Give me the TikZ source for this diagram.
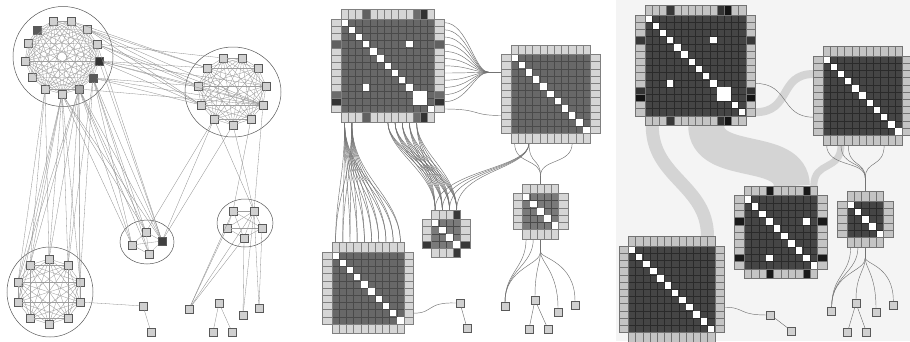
\documentclass[tikz,border=0pt]{standalone}
\usetikzlibrary{calc}
\definecolor{nf}{HTML}{D0D0D0}
\definecolor{labtwo}{HTML}{D6D6D6}
\definecolor{celltwo}{HTML}{686868}
\definecolor{gridtwo}{HTML}{4A4A4A}
\definecolor{labthree}{HTML}{C4C4C4}
\definecolor{cellthree}{HTML}{454545}
\definecolor{gridthree}{HTML}{2A2A2A}
\definecolor{bgthree}{HTML}{F4F4F4}
\definecolor{bandc}{HTML}{D4D4D4}
\newcommand\mtx[6]{%
  \pgfmathtruncatemacro\mN{#3-1}%
  \fill[mcell] (#1,#2) rectangle ({#1+#3*#4},{#2+#3*#4});
  \foreach \k in {0,...,#3}{%
    \draw[mgrid] ({#1+\k*#4},#2) -- ++(0,{#3*#4});
    \draw[mgrid] (#1,{#2+\k*#4}) -- ++({#3*#4},0);
  }
  \foreach \k in {0,...,\mN}{%
    \fill[white] ({#1+\k*#4+0.35},{#2+\k*#4+0.35}) rectangle ++({#4-0.7},{#4-0.7});
    \filldraw[mlab] ({#1+\k*#4},#2) rectangle ++(#4,-9.5);
    \filldraw[mlab] ({#1+\k*#4},{#2+#3*#4}) rectangle ++(#4,9.5);
    \filldraw[mlab] (#1,{#2+\k*#4}) rectangle ++(-9.5,#4);
    \filldraw[mlab] ({#1+#3*#4},{#2+\k*#4}) rectangle ++(9.5,#4);
  }
  \foreach \r/\c/\s in {#5}{%
    \fill[white] ({#1+\c*#4+0.35},{#2+\r*#4+0.35}) rectangle ++({\s*#4-0.7},{\s*#4-0.7});
  }
  \foreach \k/\col in {#6}{%
    \filldraw[mlab,fill=\col] ({#1+\k*#4},#2) rectangle ++(#4,-9.5);
    \filldraw[mlab,fill=\col] ({#1+\k*#4},{#2+#3*#4}) rectangle ++(#4,9.5);
    \filldraw[mlab,fill=\col] (#1,{#2+\k*#4}) rectangle ++(-9.5,#4);
    \filldraw[mlab,fill=\col] ({#1+#3*#4},{#2+\k*#4}) rectangle ++(9.5,#4);
  }
}
\begin{document}
\begin{tikzpicture}[x=1pt,y=-1pt,
  sq/.style={rectangle,draw=black!65,fill=nf,minimum size=7.5pt,inner sep=0pt,line width=0.5pt},
  sqb/.style={sq,minimum size=8pt},
  intra/.style={draw=black!38,line width=0.33pt},
  inter/.style={draw=black!45,line width=0.3pt},
  hull/.style={draw=black!65,line width=0.5pt},
  link/.style={draw=black!55,line width=0.45pt},
  bandst/.style={draw=bandc,line cap=butt},
  p2/.style={mcell/.style={fill=celltwo},mgrid/.style={draw=gridtwo,line width=0.35pt},mlab/.style={fill=labtwo,draw=black!50,line width=0.4pt}},
  p2l/.style={mcell/.style={fill=black!52},mgrid/.style={draw=gridtwo,line width=0.35pt},mlab/.style={fill=labtwo,draw=black!50,line width=0.4pt}},
  p3/.style={mcell/.style={fill=cellthree},mgrid/.style={draw=gridthree,line width=0.35pt},mlab/.style={fill=labthree,draw=black!55,line width=0.4pt}}
]
\useasboundingbox (0,0) rectangle (910,341);
\fill[white] (0,0) rectangle (910,341);
\fill[bgthree] (616,0) rectangle (910,341);

% ================= Panel 1: node-link =================
\draw[hull] (63,56.5) circle [radius=50];
\draw[hull] (233,92) ellipse [x radius=48,y radius=45];
\draw[hull] (147,242) ellipse [x radius=27,y radius=22];
\draw[hull] (245,223) ellipse [x radius=28,y radius=24];
\draw[hull] (50,292) ellipse [x radius=43,y radius=45];

\foreach \n/\x/\y/\f in {1/53/21/nf,2/71/21/nf,3/87/29/nf,4/97/44/nf,5/99/61/black!80,6/93/78/black!65,7/79/89/black!35,8/62/94/nf,9/45/89/nf,10/32/77/nf,11/25/61/nf,12/28/43/nf,13/37/30/black!65}
  \node[sq,fill=\f] (a\n) at (\x,\y) {};
\foreach \n/\x/\y in {1/223/58,2/242/58,3/258/68,4/266/86,5/263/105,6/251/119,7/233/125,8/214/119,9/201/105,10/198/86,11/207/68}
  \node[sq] (b\n) at (\x,\y) {};
\foreach \n/\x/\y/\f in {1/146/232/nf,2/162/241/black!75,3/132/245/nf,4/149/254/nf}
  \node[sq,fill=\f] (c\n) at (\x,\y) {};
\foreach \n/\x/\y in {1/233/211,2/254/211,3/227/228,4/262/228,5/244/238}
  \node[sq] (d\n) at (\x,\y) {};
\foreach \n/\x/\y in {1/49/259,2/68/265,3/80/282,4/80/302,5/68/318,6/49/324,7/30/318,8/18/302,9/18/282,10/30/265}
  \node[sq] (e\n) at (\x,\y) {};
\foreach \n/\x/\y in {1/143/306,2/151/332,3/189/309,4/219/303,5/213/332,6/232/332,7/243/315,8/259/308}
  \node[sq] (s\n) at (\x,\y) {};

% intra-cluster edges
\foreach \i in {1,...,13}{\foreach \j in {\i,...,13}{\ifnum\i<\j \draw[intra] (a\i) -- (a\j);\fi}}
\foreach \i in {1,...,11}{\foreach \j in {\i,...,11}{\ifnum\i<\j \draw[intra] (b\i) -- (b\j);\fi}}
\foreach \i in {1,...,10}{\foreach \j in {\i,...,10}{\ifnum\i<\j \draw[intra] (e\i) -- (e\j);\fi}}
\foreach \i in {1,...,5}{\foreach \j in {\i,...,5}{\ifnum\i<\j \draw[intra] (d\i) -- (d\j);\fi}}
\foreach \i/\j in {1/2,1/3,2/3,2/4,3/4,1/4} \draw[intra] (c\i) -- (c\j);
% inter-cluster edges
\foreach \i/\j in {3/10,3/9,3/5,3/11,4/10,4/5,4/1,5/10,5/9,5/5,5/4,5/11,6/9,6/5,6/10,7/5,2/11,4/9}
  \draw[inter] (a\i) -- (b\j);
\foreach \i/\j in {8/1,8/2,8/10,8/9,8/3,8/8,7/1,7/2,7/3,7/10,7/4,9/1,9/10,9/9,6/2,6/3,7/9}
  \draw[inter] (a\i) -- (e\j);
\foreach \i/\j in {6/1,6/2,6/3,6/4,7/1,7/2,7/3,7/4,8/1,8/2,8/3,5/2,4/2}
  \draw[inter] (a\i) -- (c\j);
\foreach \i/\j in {8/2,7/2,8/1} \draw[inter] (b\i) -- (c\j);
\foreach \i/\j in {7/2,8/2,5/2,6/1} \draw[inter] (b\i) -- (d\j);
\foreach \i/\j in {1/3,3/3,5/3,2/3,2/7,2/8,4/8,5/7} \draw[inter] (d\i) -- (s\j);
\draw[inter] (e4) -- (s1);
\draw[inter] (s1) -- (s2);
\draw[inter] (s4) -- (s5);
\draw[inter] (s4) -- (s6);

% ================= Panel 2: NodeTrix with curved links =================
\coordinate (fanA) at (489,72.3);
\coordinate (m2in) at (501.5,72.3);
\foreach \k in {0,...,11}
  \draw[link] (444.1,{22.6+7.2*\k}) .. controls (468,{22.6+7.2*\k}) and (474,72.3) .. (fanA);
\draw[link] (fanA) -- (m2in);
\draw[link] (444.1,109) .. controls (482,109) and (470,115.5) .. (501.5,115.5);
% M1 -> M5
\foreach \o in {344.6,351.8}{\foreach \j in {0,...,9}{
  \draw[link] (\o,122.1) .. controls (\o,178) and ({335.6+7.2*\j},195) .. ({335.6+7.2*\j},242.5);}}
% M1 -> M3
\foreach \o in {387.8,395,402.2,409.4,416.6}{\foreach \j in {0,...,3}{
  \draw[link] (\o,122.1) .. controls (\o,152) and ({435.1+7.2*\j},172) .. ({435.1+7.2*\j},209.8);}}
% M2 -> M3
\foreach \j in {0,...,3}
  \draw[link] (529,143) .. controls (529,170) and ({435.1+7.2*\j},170) .. ({435.1+7.2*\j},209.8);
% M2 -> M4
\coordinate (fanB) at (540.5,176);
\foreach \o in {514.6,529,572.2}
  \draw[link] (\o,143) .. controls (\o,165) and (540.5,158) .. (fanB);
\draw[link] (fanB) -- (540.5,183.8);
% singletons panel 2
\foreach \n/\x/\y in {1/460/303,2/467/328,3/505/306,4/535/300,5/529/329,6/548/329,7/558/312,8/575/305}
  \node[sqb] (q\n) at (\x,\y) {};
\coordinate (fanC) at (540.5,252);
\draw[link] (526.1,238.8) .. controls (526.1,268) and (505,272) .. (q3.north);
\draw[link] (533.3,238.8) .. controls (533.3,266) and (505,270) .. (q3.north);
\draw[link] (540.5,238.8) -- (fanC);
\draw[link] (fanC) .. controls (540.5,265) and (505,268) .. (q3.north);
\draw[link] (fanC) .. controls (540.5,262) and (535,270) .. (q4.north);
\draw[link] (fanC) .. controls (540.5,262) and (558,272) .. (q7.north);
\draw[link] (fanC) .. controls (540.5,258) and (575,262) .. (q8.north);
\draw[link] (413.5,313.2) .. controls (434,313.2) and (426,302) .. (q1.west);
\draw[link] (q1) -- (q2);
\draw[link] (q4) -- (q5);
\draw[link] (q4) -- (q6);

% matrices panel 2
\begin{scope}[p2]
\mtx{341}{19}{13}{7.2}{3/9/1,9/3/1,10/10/2}{3/black!62,10/black!58,11/black!80}
\mtx{511}{54.3}{11}{7.2}{0/0/1}{0/labtwo}
\mtx{332}{252}{10}{7.2}{0/0/1}{0/labtwo}
\end{scope}
\begin{scope}[p2l]
\mtx{431.5}{219.3}{4}{7.2}{0/0/1}{3/black!78}
\mtx{522.5}{193.3}{5}{7.2}{0/0/1}{0/labtwo}
\end{scope}

% ================= Panel 3: NodeTrix with bundled links =================
\draw[bandst,line width=13] (652.2,125.3) .. controls (652.2,178) and (707.5,185) .. (707.5,236.5);
\draw[bandst,line width=36] (706.2,125.3) .. controls (706.2,168) and (791.8,145) .. (791.8,186);
\draw[bandst,line width=7] (841,144.7) .. controls (841,172) and (813.8,160) .. (813.8,186);
\draw[bandst,line width=8] (755.3,112.2) .. controls (792,112.2) and (778,74) .. (813.5,74);
\draw[link] (755.3,83.4) .. controls (790,83.4) and (780,117.2) .. (813.5,117.2);
\coordinate (fanD) at (865.25,178);
\foreach \o in {826.6,841,848.2,884.2}
  \draw[link] (\o,144.7) .. controls (\o,168) and (865.25,160) .. (fanD);
\draw[link] (fanD) -- (865.25,191.5);
\foreach \n/\x/\y in {1/770.7/315,2/791.7/331,3/831.7/311,4/856/303.3,5/847.3/332.7,6/866.7/332.7,7/876/312.3,8/893.3/305}
  \node[sqb] (p\n) at (\x,\y) {};
\coordinate (fanE) at (865.25,258);
\draw[link] (850.65,247) .. controls (850.65,275) and (831.7,275) .. (p3.north);
\draw[link] (857.95,247) .. controls (857.95,273) and (831.7,275) .. (p3.north);
\draw[link] (865.25,247) -- (fanE);
\draw[link] (fanE) .. controls (865.25,272) and (831.7,272) .. (p3.north);
\draw[link] (fanE) .. controls (865.25,270) and (856,275) .. (p4.north);
\draw[link] (fanE) .. controls (865.25,268) and (876,275) .. (p7.north);
\draw[link] (fanE) .. controls (865.25,264) and (893.3,266) .. (p8.north);
\draw[link] (724.2,307.2) .. controls (745,307.2) and (738,315) .. (p1.west);
\draw[link] (p1) -- (p2);
\draw[link] (p4) -- (p5);
\draw[link] (p4) -- (p6);

\begin{scope}[p3]
\mtx{645}{15}{14}{7.2}{3/9/1,9/3/1,10/10/2}{3/black!78,10/black!80,11/black!92}
\mtx{823}{56}{11}{7.2}{0/0/1}{0/labthree}
\mtx{744}{195.5}{10}{7.35}{3/8/1,8/3/1}{3/black!90,8/black!90}
\mtx{847}{201}{5}{7.3}{0/0/1}{0/labthree}
\mtx{628.3}{246}{12}{7.2}{0/0/1}{0/labthree}
\end{scope}
\end{tikzpicture}
\end{document}
